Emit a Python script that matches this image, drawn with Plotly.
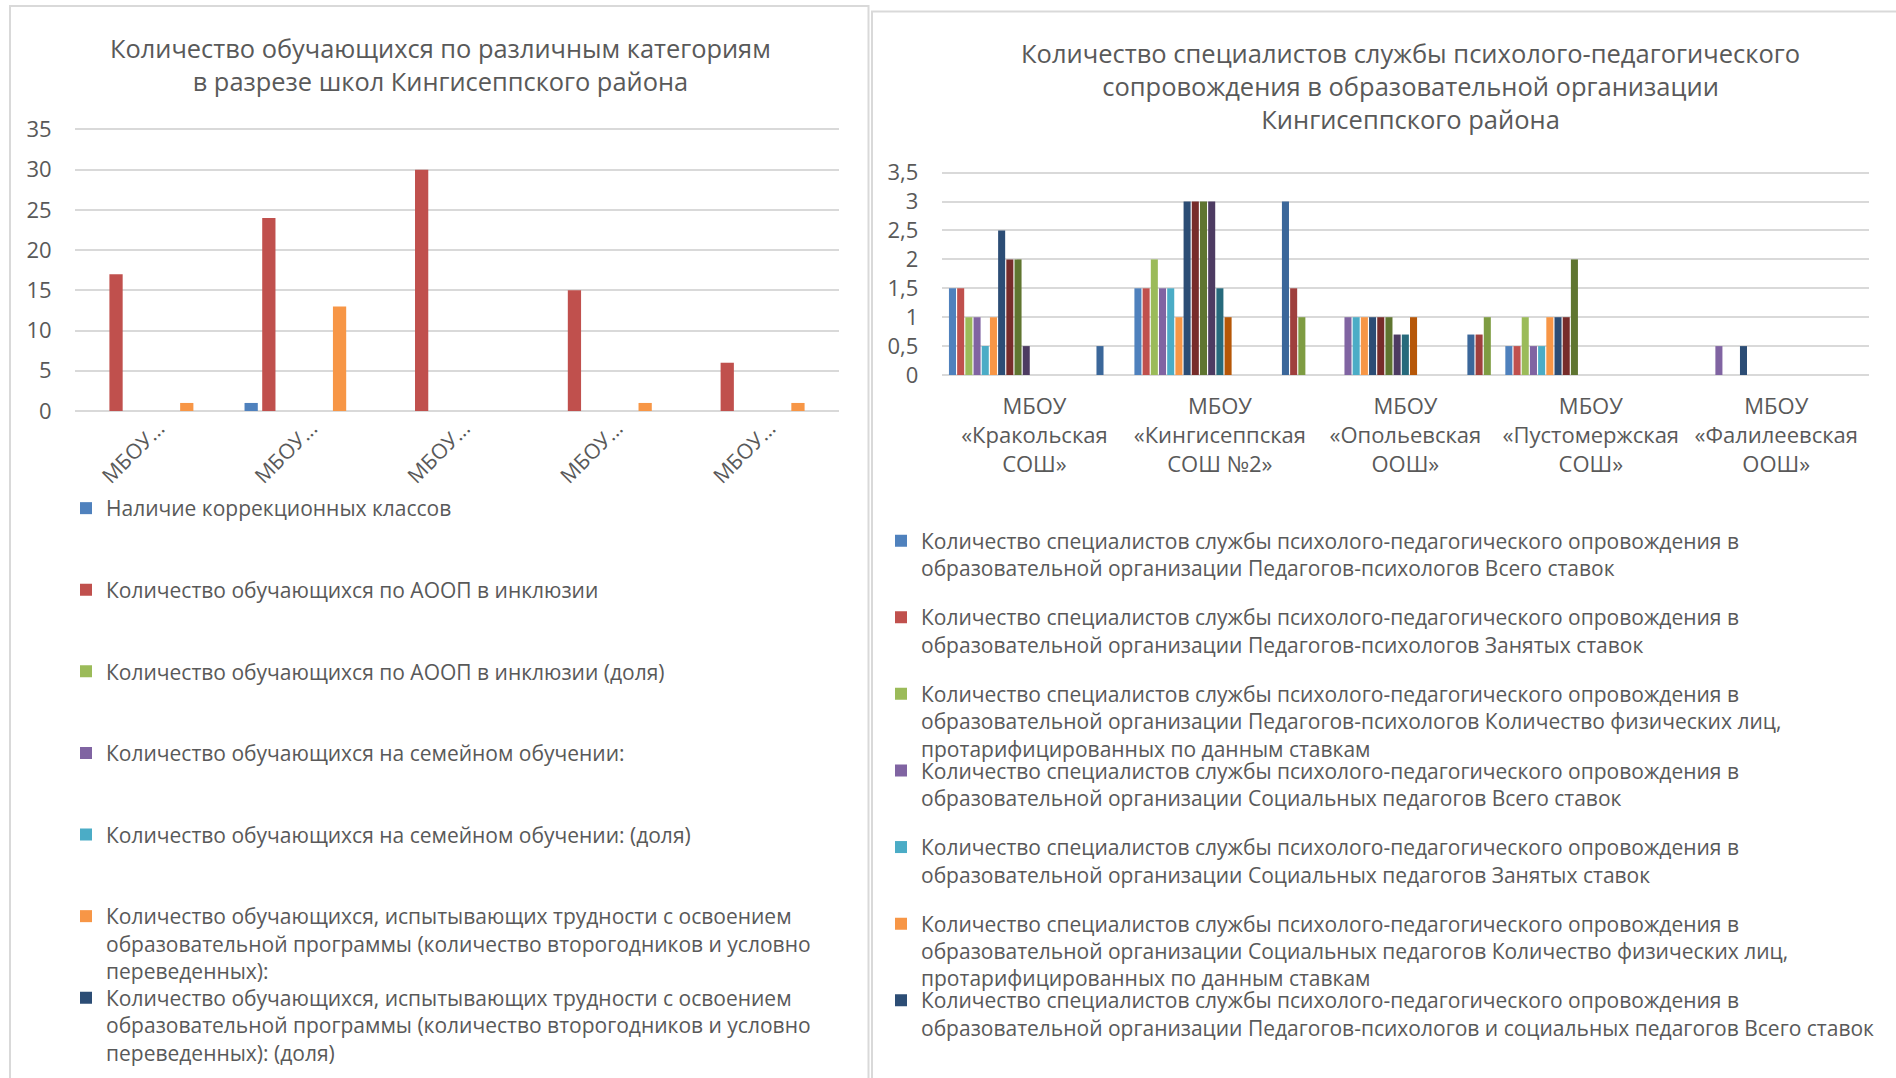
import plotly.graph_objects as go

# ------------------------------------------------------------------ data
school_names = [
    "МБОУ «Кракольская СОШ»",
    "МБОУ «Кингисеппская СОШ №2»",
    "МБОУ «Опольевская ООШ»",
    "МБОУ «Пустомержская СОШ»",
    "МБОУ «Фалилеевская ООШ»",
]
left_tick_labels = ["МБОУ...", "МБОУ...", "МБОУ...", "МБОУ...", "МБОУ..."]
right_tick_labels = [
    "МБОУ<br>«Кракольская<br>СОШ»",
    "МБОУ<br>«Кингисеппская<br>СОШ №2»",
    "МБОУ<br>«Опольевская<br>ООШ»",
    "МБОУ<br>«Пустомержская<br>СОШ»",
    "МБОУ<br>«Фалилеевская<br>ООШ»",
]

left_title = "Количество обучающихся по различным категориям<br>в разрезе школ Кингисеппского района"
right_title = ("Количество специалистов службы психолого-педагогического<br>"
               "сопровождения в образовательной организации<br>Кингисеппского района")

# left chart series
left_names = [
    "Наличие коррекционных классов",
    "Количество обучающихся по АООП в инклюзии",
    "Количество обучающихся по АООП в инклюзии (доля)",
    "Количество обучающихся на семейном обучении:",
    "Количество обучающихся на семейном обучении: (доля)",
    "Количество обучающихся, испытывающих трудности с освоением<br>образовательной программы (количество второгодников и условно<br>переведенных):",
    "Количество обучающихся, испытывающих трудности с освоением<br>образовательной программы (количество второгодников и условно<br>переведенных): (доля)",
]
left_correction_classes = [0, 1, 0, 0, 0]
left_aoop = [17, 24, 30, 15, 6]
left_aoop_share = [0, 0, 0, 0, 0]
left_family = [0, 0, 0, 0, 0]
left_family_share = [0, 0, 0, 0, 0]
left_difficulty = [1, 13, 0, 1, 1]
left_difficulty_share = [0, 0, 0, 0, 0]
left_colors = ["#4F81BD", "#C0504D", "#9BBB59", "#8064A2", "#4BACC6", "#F79646", "#2C4D75"]

# right chart series
_pre = "Количество специалистов службы психолого-педагогического опровождения в<br>образовательной организации "
right_names = [
    _pre + "Педагогов-психологов Всего ставок",
    _pre + "Педагогов-психологов Занятых ставок",
    _pre + "Педагогов-психологов Количество физических лиц,<br>протарифицированных по данным ставкам",
    _pre + "Социальных педагогов Всего ставок",
    _pre + "Социальных педагогов Занятых ставок",
    _pre + "Социальных педагогов Количество физических лиц,<br>протарифицированных по данным ставкам",
    _pre + "Педагогов-психологов и социальных педагогов Всего ставок",
] + ["Ряд %d" % k for k in range(8, 22)]
r01 = [1.5, 1.5, 0, 0.5, 0]
r02 = [1.5, 1.5, 0, 0.5, 0]
r03 = [1, 2, 0, 1, 0]
r04 = [1, 1.5, 1, 0.5, 0.5]
r05 = [0.5, 1.5, 1, 0.5, 0]
r06 = [1, 1, 1, 1, 0]
r07 = [2.5, 3, 1, 1, 0.5]
r08 = [2, 3, 1, 1, 0]
r09 = [2, 3, 1, 2, 0]
r10 = [0.5, 3, 0.7, 0, 0]
r11 = [0, 1.5, 0.7, 0, 0]
r12 = [0, 1, 1, 0, 0]
r13 = [0, 0, 0, 0, 0]
r14 = [0, 0, 0, 0, 0]
r15 = [0, 0, 0, 0, 0]
r16 = [0, 0, 0, 0, 0]
r17 = [0, 0, 0, 0, 0]
r18 = [0, 0, 0, 0, 0]
r19 = [0.5, 3, 0.7, 0, 0]
r20 = [0, 1.5, 0.7, 0, 0]
r21 = [0, 1, 1, 0, 0]
right_colors = ["#4F81BD", "#C0504D", "#9BBB59", "#8064A2", "#4BACC6", "#F79646",
                "#2C4D75", "#772C2A", "#5F7530", "#4D3B62", "#276A7C", "#B65708",
                "#729ACA", "#CD7371", "#AFC97A", "#9983B5", "#6FBDD1", "#F9AB6B",
                "#3B679A", "#9F3F3D", "#7E9C42"]

left_series = [left_correction_classes, left_aoop, left_aoop_share, left_family,
               left_family_share, left_difficulty, left_difficulty_share]
right_series = [r01, r02, r03, r04, r05, r06, r07, r08, r09, r10, r11, r12, r13, r14,
                r15, r16, r17, r18, r19, r20, r21]

# ------------------------------------------------------------------ layout helpers
W, H = 1896, 1078
FONT = "Open Sans, Liberation Sans, sans-serif"
GRAY = "#595959"
GRID = "#D9D9D9"


def fx(p):
    return p / W


def fy(p):
    return 1 - p / H


fig = go.Figure()

# left bars
nL = len(left_series)
groupL = 0.81
slotL = groupL / nL
bwL = slotL * 0.75
for i, (vals, name, col) in enumerate(zip(left_series, left_names, left_colors)):
    fig.add_trace(go.Bar(
        x=school_names, y=vals, name=name, marker=dict(color=col, line=dict(width=0)),
        width=bwL, offset=-groupL / 2 + i * slotL + (slotL - bwL) / 2,
        xaxis="x", yaxis="y", legend="legend" if i == 0 else "legend%d" % (i + 1),
    ))

# right bars
nR = len(right_series)
groupR = 0.928
slotR = groupR / nR
bwR = slotR * 0.86
for i, (vals, name, col) in enumerate(zip(right_series, right_names, right_colors)):
    fig.add_trace(go.Bar(
        x=school_names, y=vals, name=name, marker=dict(color=col, line=dict(width=0)),
        width=bwR, offset=-groupR / 2 + i * slotR + (slotR - bwR) / 2,
        xaxis="x2", yaxis="y2",
        legend="legend%d" % (8 + i) if i < 7 else None,
        showlegend=i < 7,
    ))

axis_common = dict(tickfont=dict(family=FONT, size=22, color=GRAY), fixedrange=True,
                   automargin=False)

# pixel geometry of the two plot areas (value axes slightly extended so the top grid line shows)
L_top, L_bot, L_max = 129.4, 411.0, 35.0
R_top, R_bot, R_max = 172.7, 375.0, 3.5
L_ext = L_max * 1.006
R_ext = R_max * 1.006
L_top_ext = L_bot - (L_bot - L_top) * L_ext / L_max
R_top_ext = R_bot - (R_bot - R_top) * R_ext / R_max

layout = dict(
    width=W, height=H,
    margin=dict(l=0, r=0, t=0, b=0, autoexpand=False),
    paper_bgcolor="white", plot_bgcolor="white",
    barmode="overlay",
    separators=", ",
    font=dict(family=FONT, color=GRAY),
    xaxis=dict(domain=[fx(75), fx(839)], type="category", range=[-0.5, 4.5],
               tickmode="array", tickvals=school_names, ticktext=left_tick_labels,
               tickangle=-45, showgrid=False, showline=False, zeroline=False,
               ticks="", ticklabelshift=7,
               anchor="y", **{**axis_common, "tickfont": dict(family=FONT, size=21, color=GRAY)}),
    yaxis=dict(domain=[fy(L_bot), fy(L_top_ext)], range=[0, L_ext], dtick=5, showgrid=True,
               gridcolor=GRID, gridwidth=2, zeroline=True, zerolinecolor=GRID, zerolinewidth=2,
               showline=False, ticks="outside", ticklen=18, tickcolor="rgba(0,0,0,0)",
               anchor="x", **axis_common),
    xaxis2=dict(domain=[fx(941.7), fx(1869)], type="category", range=[-0.5, 4.5],
                tickmode="array", tickvals=school_names, ticktext=right_tick_labels,
                tickangle=0, showgrid=False, showline=False, zeroline=False,
                ticks="outside", ticklen=12, tickcolor="rgba(0,0,0,0)",
                anchor="y2", **axis_common),
    yaxis2=dict(domain=[fy(R_bot), fy(R_top_ext)], range=[0, R_ext], dtick=0.5, showgrid=True,
                gridcolor=GRID, gridwidth=2, zeroline=True, zerolinecolor=GRID, zerolinewidth=2,
                showline=False, ticks="outside", ticklen=18, tickcolor="rgba(0,0,0,0)",
                anchor="x2", **axis_common),
    annotations=[
        dict(text=left_title, x=fx(440), y=fy(64), xref="paper", yref="paper",
             xanchor="center", yanchor="middle", showarrow=False,
             font=dict(family=FONT, size=25.4, color=GRAY)),
        dict(text=right_title, x=fx(1410), y=fy(86.5), xref="paper", yref="paper",
             xanchor="center", yanchor="middle", showarrow=False,
             font=dict(family=FONT, size=25.5, color=GRAY)),
    ],
    shapes=[
        dict(type="rect", xref="paper", yref="paper", x0=fx(10), x1=fx(868.5), y0=fy(1120), y1=fy(6),
             line=dict(color=GRID, width=2), fillcolor="rgba(0,0,0,0)", layer="below"),
        dict(type="rect", xref="paper", yref="paper", x0=fx(872), x1=fx(1960), y0=fy(1120), y1=fy(11.5),
             line=dict(color=GRID, width=2), fillcolor="rgba(0,0,0,0)", layer="below"),
    ],
)

legend_base = dict(bgcolor="rgba(0,0,0,0)", borderwidth=0, xanchor="left", yanchor="top",
                   valign="top", tracegroupgap=0, orientation="v")
LEG_OFF = 20
for k in range(7):
    key = "legend" if k == 0 else "legend%d" % (k + 1)
    layout[key] = dict(legend_base, x=fx(66), y=fy(508 + k * 81.6 - LEG_OFF),
                       font=dict(family=FONT, size=21, color=GRAY))
for k in range(7):
    key = "legend%d" % (8 + k)
    layout[key] = dict(legend_base, x=fx(881), y=fy(540.5 + k * 76.6 - LEG_OFF),
                       font=dict(family=FONT, size=21, color=GRAY))

fig.update_layout(**layout)

fig.write_html("out.html", config={"displayModeBar": False},
               post_script="document.body.style.margin='0';document.body.style.overflow='hidden';")
